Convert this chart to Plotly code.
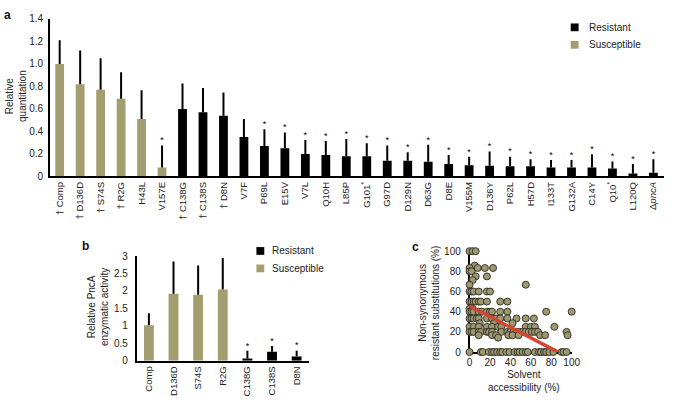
import plotly.graph_objects as go

W, H = 675, 402
OLIVE = "#a39d6f"
FONT = "Liberation Sans, Arial, sans-serif"

# ---- panel a: relative quantitation ----
a_labels = ["† Comp", "† D136D", "† S74S", "† R2G", "H43L", "V157E", "† C138G", "† C138S",
            "† D8N", "V7F", "P69L", "E15V", "V7L", "Q10H", "L85P", "G101<sup>*</sup>", "G97D",
            "D129N", "D63G", "D8E", "V155M", "D136Y", "P62L", "H57D", "I133T", "G132A", "C14Y",
            "Q10<sup>*</sup>", "L120Q", "Δ<i>pncA</i>"]
a_group = ["Susceptible"] * 6 + ["Resistant"] * 24
a_value = [1.00, 0.82, 0.77, 0.69, 0.51, 0.08, 0.60, 0.57, 0.54, 0.35, 0.27, 0.25, 0.20, 0.19,
           0.18, 0.18, 0.14, 0.14, 0.13, 0.11, 0.10, 0.095, 0.09, 0.09, 0.08, 0.08, 0.08, 0.07,
           0.026, 0.032]
a_error = [0.21, 0.30, 0.28, 0.235, 0.255, 0.195, 0.225, 0.215, 0.205, 0.16, 0.15, 0.14, 0.125,
           0.125, 0.152, 0.115, 0.135, 0.075, 0.151, 0.08, 0.075, 0.127, 0.086, 0.063, 0.066,
           0.066, 0.117, 0.063, 0.084, 0.121]
a_star = [False] * 5 + [True] + [False] * 4 + [True] * 20
a_ticks = [0, 0.2, 0.4, 0.6, 0.8, 1.0, 1.2, 1.4]
a_ticktext = ["0", "0.2", "0.4", "0.6", "0.8", "1.0", "1.2", "1.4"]

# ---- panel b: PncA enzymatic activity ----
b_labels = ["Comp", "D136D", "S74S", "R2G", "C138G", "C138S", "D8N"]
b_group = ["Susceptible"] * 4 + ["Resistant"] * 3
b_value = [1.02, 1.92, 1.89, 2.04, 0.065, 0.26, 0.12]
b_error = [0.34, 0.92, 0.84, 0.90, 0.22, 0.16, 0.17]
b_star = [False] * 4 + [True] * 3
b_ticks = [0, 0.5, 1, 1.5, 2, 2.5, 3]
b_ticktext = ["0", "0.5", "1", "1.5", "2", "2.5", "3"]

# ---- panel c: solvent accessibility vs resistant substitutions ----
c_access = [0, 3, 6,
            5,
            0, 8, 15, 23,
            0, 2,
            6, 17,
            3,
            0, 55,
            0, 2, 4, 9, 17, 20,
            0, 2, 4, 6, 9, 11, 17, 30, 37,
            0, 3,
            0, 2, 4, 9, 12, 17, 20, 22, 30, 37, 75, 100,
            0, 2, 4, 7, 9, 17, 22, 26, 30, 37, 46, 55, 63,
            10, 24, 42,
            0, 4, 9, 17, 22, 28, 31, 55, 60, 64, 83,
            0, 2, 4, 9, 11, 17, 19, 22, 31, 37, 40, 43, 46, 49, 52, 55, 58, 61, 64, 67, 95,
            9, 22, 26, 38, 42, 48, 69, 74, 96,
            28,
            0, 11, 13, 19, 22, 24, 27, 30, 32, 36, 39, 44, 47, 49, 52, 55, 57, 64, 68, 70, 73,
            75, 78, 82, 90, 92, 95]
c_subst = [100] * 3 + [85.7] + [83.3] * 4 + [80] * 2 + [75] * 2 + [71.4] + [66.7] * 2 + \
          [60] * 6 + [50] * 9 + [42.9] * 2 + [40] * 12 + [33.3] * 13 + [28.6] * 3 + \
          [25] * 11 + [20] * 21 + [16.7] * 9 + [14.3] + [0] * 27
fit_intercept = 45.5
fit_slope = -0.525


def dom_x(x0, x1):
    return [x0 / W, x1 / W]


def dom_y(top, bottom):
    return [1 - bottom / H, 1 - top / H]


fig = go.Figure()

# bars a + b
for labels, groups, vals, errs, xa, ya in [
        (a_labels, a_group, a_value, a_error, "x", "y"),
        (b_labels, b_group, b_value, b_error, "x2", "y2")]:
    width = 0.43 if xa == "x" else 0.4
    for grp, col in [("Resistant", "black"), ("Susceptible", OLIVE)]:
        idx = [i for i, g in enumerate(groups) if g == grp]
        fig.add_trace(go.Bar(
            x=[labels[i] for i in idx], y=[vals[i] for i in idx],
            width=width, marker=dict(color=col, line=dict(width=0)),
            error_y=dict(type="data", symmetric=False, array=[errs[i] for i in idx],
                         arrayminus=[0] * len(idx), color="black", thickness=2, width=0),
            xaxis=xa, yaxis=ya, showlegend=False, name=grp))

# significance stars
for labels, vals, errs, stars, xa, ya in [
        (a_labels, a_value, a_error, a_star, "x", "y"),
        (b_labels, b_value, b_error, b_star, "x2", "y2")]:
    idx = [i for i, s in enumerate(stars) if s]
    fig.add_trace(go.Scatter(
        x=[labels[i] for i in idx], y=[vals[i] + errs[i] for i in idx],
        mode="text", text=["*"] * len(idx), textposition="top center",
        textfont=dict(size=9, color="black", family=FONT),
        xaxis=xa, yaxis=ya, showlegend=False, cliponaxis=False, hoverinfo="skip"))

# scatter c
fig.add_trace(go.Scatter(
    x=c_access, y=c_subst, mode="markers",
    marker=dict(size=7, color="#9d9872", line=dict(color="#2b2b22", width=0.9)),
    xaxis="x3", yaxis="y3", showlegend=False, cliponaxis=False))
x_end = -fit_intercept / fit_slope
fig.add_trace(go.Scatter(
    x=[0, x_end], y=[fit_intercept, fit_intercept + fit_slope * x_end], mode="lines",
    line=dict(color="#d6452f", width=3.5), xaxis="x3", yaxis="y3",
    showlegend=False, cliponaxis=False))

axis_common = dict(showline=True, linecolor="black", linewidth=1.5, showgrid=False,
                   zeroline=False, ticks="", tickfont=dict(size=10, color="#222", family=FONT))

fig.update_layout(
    width=W, height=H, margin=dict(l=0, r=0, t=0, b=0),
    paper_bgcolor="white", plot_bgcolor="white", barmode="overlay",
    font=dict(family=FONT, size=10, color="#222"),
    xaxis=dict(axis_common, domain=dom_x(47.7, 673), anchor="y", type="category",
               categoryorder="array", categoryarray=a_labels, range=[-0.48, 29.52],
               tickangle=-90, tickfont=dict(size=9.5, color="#222", family=FONT)),
    yaxis=dict(axis_common, domain=dom_y(13.3, 175.7), anchor="x", range=[0, 1.4],
               tickvals=a_ticks, ticktext=a_ticktext, ticklabelstandoff=3),
    xaxis2=dict(axis_common, domain=dom_x(136, 311.5), anchor="y2", type="category",
                categoryorder="array", categoryarray=b_labels, range=[-0.5, 6.5],
                tickangle=-90, tickfont=dict(size=9.5, color="#222", family=FONT)),
    yaxis2=dict(axis_common, domain=dom_y(257.7, 365.7), anchor="x2", range=[0, 3],
                tickvals=b_ticks, ticktext=b_ticktext, ticklabelstandoff=5),
    xaxis3=dict(axis_common, domain=dom_x(475, 579), anchor="y3", range=[0, 100],
                tickvals=[0, 20, 40, 60, 80, 100], layer="below traces"),
    yaxis3=dict(axis_common, domain=dom_y(252.7, 356.7), anchor="x3", range=[0, 100],
                tickvals=[0, 20, 40, 60, 80, 100], layer="below traces", ticklabelstandoff=5),
)


def ann(text, x, y, size=10, angle=0, bold=False, xanchor="center"):
    fig.add_annotation(text=f"<b>{text}</b>" if bold else text, x=x / W, y=1 - y / H,
                       xref="paper", yref="paper", showarrow=False, textangle=angle,
                       xanchor=xanchor, yanchor="middle",
                       font=dict(size=size, color="#111" if bold else "#222", family=FONT))


# panel letters and axis titles
ann("a", 5, 9, size=12, bold=True)
ann("b", 84, 247, size=12, bold=True)
ann("c", 420, 248, size=12, bold=True)
ann("Relative<br>quantitation", 13, 93, angle=-90)
ann("Relative PncA<br>enzymatic activity", 96, 310, angle=-90)
ann("Non-synonymous<br>resistant substitutions (%)", 434, 306, angle=-90)
ann("Solvent<br>accessibility (%)", 530, 387)

# legends (manual squares + labels)
for cx, cy0, tx in [(582, 22, 595), (262, 252.5, 272)]:
    for k, (name, col) in enumerate([("Resistant", "black"), ("Susceptible", OLIVE)]):
        cy = cy0 + 18 * k
        fig.add_shape(type="rect", xref="paper", yref="paper",
                      x0=(cx - 4) / W, x1=(cx + 4) / W, y0=1 - (cy + 4) / H, y1=1 - (cy - 4) / H,
                      fillcolor=col, line=dict(width=0))
        ann(name, tx, cy, xanchor="left")

# drop the default page margin so the figure sits at the window's corner
fig.write_html("out.html", config={"displayModeBar": False},
               post_script="document.body.style.margin='0';")
